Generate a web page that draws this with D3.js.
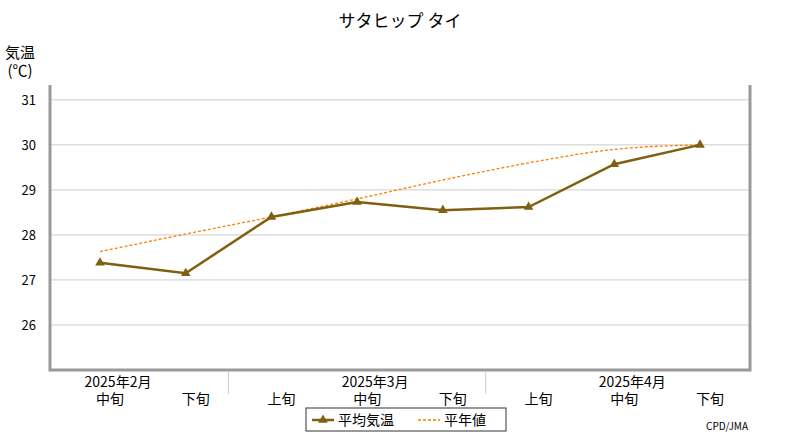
<!DOCTYPE html>
<html><head><meta charset="utf-8">
<script src="https://cdn.jsdelivr.net/npm/d3@7"></script>
<style>body{margin:0;background:#fff}text{font-family:"Noto Sans CJK JP","DejaVu Sans",sans-serif}</style>
</head><body>
<svg id="c" width="800" height="440"></svg>
<script>
// dekads shown on the x axis
const dekads = ['中旬', '下旬', '上旬', '中旬', '下旬', '上旬', '中旬', '下旬']
const months = [{label: '2025年2月', at: 0}, {label: '2025年3月', at: 3}, {label: '2025年4月', at: 6}]
const monthBreaks = [1.5, 4.5]
const avgTemp = [27.38, 27.15, 28.40, 28.73, 28.55, 28.62, 29.57, 30.00]
const normalTemp = [27.63, 28.02, 28.40, 28.80, 29.22, 29.60, 29.90, 30.00]
const yTicks = [26, 27, 28, 29, 30, 31]

const svg = d3.select('#c')
const L = 50, R = 750, T = 85, B = 370
const x = d3.scaleLinear().domain([0, 7]).range([100, 700])
const y = d3.scaleLinear().domain([25, 31.33]).range([B, T])
const brown = '#7f5f10', orange = '#ff7f00'

svg.append('text').attr('x', 400).attr('y', 27).attr('text-anchor', 'middle')
    .attr('font-size', 17).text('サタヒップ タイ')
svg.append('text').attr('x', 20).attr('y', 58).attr('text-anchor', 'middle').attr('font-size', 15).text('気温')
svg.append('text').attr('x', 20).attr('y', 76).attr('text-anchor', 'middle').attr('font-size', 15).text('(℃)')

// grid
svg.append('g').selectAll('line').data(yTicks).join('line')
    .attr('x1', L).attr('x2', R).attr('y1', d => y(d)).attr('y2', d => y(d))
    .attr('stroke', '#ccc')
svg.append('g').selectAll('text').data(yTicks).join('text')
    .attr('x', 36).attr('y', d => y(d) + 5).attr('text-anchor', 'end').attr('font-size', 13)
    .text(d => d)

// frame
svg.append('path').attr('d', `M${L},${T}V${B}H${R}V${T}`).attr('fill', 'none')
    .attr('stroke', '#999').attr('stroke-width', 3)

// x labels
svg.append('g').selectAll('line').data(monthBreaks).join('line')
    .attr('x1', d => x(d)).attr('x2', d => x(d)).attr('y1', B + 2).attr('y2', B + 24).attr('stroke', '#ccc')
svg.append('g').selectAll('text').data(months).join('text')
    .attr('x', d => x(d.at) + 18).attr('y', 387).attr('text-anchor', 'middle').attr('font-size', 14)
    .text(d => d.label)
svg.append('g').selectAll('text').data(dekads).join('text')
    .attr('x', (d, i) => x(i) + 10).attr('y', 404).attr('text-anchor', 'middle').attr('font-size', 14)
    .text(d => d)

// normal curve
svg.append('path').datum(normalTemp)
    .attr('d', d3.line().x((d, i) => x(i)).y(d => y(d)).curve(d3.curveMonotoneX))
    .attr('fill', 'none').attr('stroke', orange).attr('stroke-width', 1.3).attr('stroke-dasharray', '3,2')

// average line
svg.append('path').datum(avgTemp)
    .attr('d', d3.line().x((d, i) => x(i)).y(d => y(d)))
    .attr('fill', 'none').attr('stroke', brown).attr('stroke-width', 2.5)
svg.append('g').selectAll('path').data(avgTemp).join('path')
    .attr('transform', (d, i) => `translate(${x(i)},${y(d)})`)
    .attr('d', d3.symbol(d3.symbolTriangle, 40)).attr('fill', brown)

// legend
const lg = svg.append('g').attr('transform', 'translate(306,408)')
lg.append('rect').attr('width', 200).attr('height', 23).attr('fill', '#fff').attr('stroke', '#333')
lg.append('line').attr('x1', 6).attr('x2', 28).attr('y1', 12).attr('y2', 12).attr('stroke', brown).attr('stroke-width', 2.5)
lg.append('path').attr('transform', 'translate(17,12)').attr('d', d3.symbol(d3.symbolTriangle, 40)).attr('fill', brown)
lg.append('text').attr('x', 32).attr('y', 17).attr('font-size', 14).text('平均気温')
lg.append('line').attr('x1', 112).attr('x2', 134).attr('y1', 12).attr('y2', 12).attr('stroke', orange)
    .attr('stroke-width', 1.3).attr('stroke-dasharray', '3,2')
lg.append('text').attr('x', 138).attr('y', 17).attr('font-size', 14).text('平年値')

svg.append('text').attr('x', 748).attr('y', 430).attr('text-anchor', 'end').attr('font-size', 10)
    .attr('font-family', 'DejaVu Sans Mono').text('CPD/JMA')
</script>
</body></html>
